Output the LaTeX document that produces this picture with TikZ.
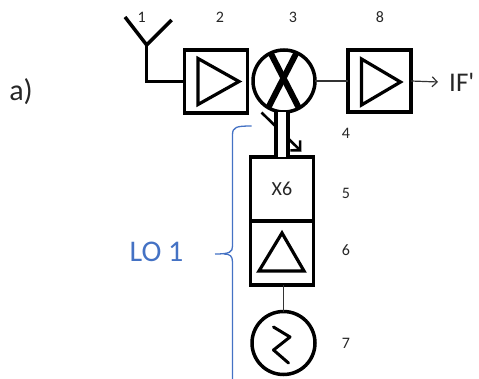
\documentclass[tikz,border=0pt]{standalone}
\usepackage{fontspec}
\setmainfont{Carlito}
\usetikzlibrary{arrows.meta}
\definecolor{lblue}{HTML}{4472C4}
\begin{document}
\begin{tikzpicture}[x=1pt,y=-1pt,
  blk/.style={draw, line width=3.5pt, minimum width=63pt, minimum height=63pt, inner sep=0pt, outer sep=0pt},
  rnd/.style={draw, circle, line width=3.5pt, inner sep=0pt, outer sep=0pt},
  tri/.style={line width=3.2pt, line join=miter},
  thin/.style={line width=1.2pt, draw=black!80},
  num/.style={font=\fontsize{16}{18}\selectfont, text=black!85, inner sep=0pt},
  brc/.style={draw=lblue, line width=1.3pt}]
\useasboundingbox (0,0) rectangle (479,379);

% blocks
\node[blk] (amp1) at (216,81.5) {};
\node[rnd, minimum size=62pt] (mix) at (284,81) {};
\node[blk, minimum height=62pt] (amp2) at (379.5,81) {};
\node[blk, minimum height=64pt, font=\fontsize{20}{22}\selectfont, text=black!85] (mult) at (282,189) {X6};
\node[blk, minimum height=64pt] (loamp) at (282,253) {};
\node[rnd, minimum size=63pt] (osc) at (283.5,343) {};

% antenna
\coordinate (ant) at (146.7,45);
\coordinate (antl) at (125,17);
\coordinate (antr) at (171.7,20);
\draw[line width=3.5pt, line join=miter] (antl) -- (ant) -- (antr);
\draw[line width=3.5pt, line join=miter] (ant) |- (amp1.west);

% triangles
\draw[tri] ([shift={(-18,-23)}]amp1.center) -- ([shift={(-18,23)}]amp1.center) -- ([shift={(23,0)}]amp1.center) -- cycle;
\draw[tri] ([shift={(-18,-22)}]amp2.center) -- ([shift={(-18,24)}]amp2.center) -- ([shift={(21,1)}]amp2.center) -- cycle;
\draw[tri] ([shift={(0,-20)}]loamp.center) -- ([shift={(-23,18)}]loamp.center) -- ([shift={(22,18)}]loamp.center) -- cycle;

% mixer X
\begin{scope}
  \clip (mix.center) circle[radius=31pt];
  \draw[line width=6pt] ([shift={(-17,-35)}]mix.center) -- ([shift={(19,35)}]mix.center);
  \draw[line width=6pt] ([shift={(16,-35)}]mix.center) -- ([shift={(-20,35)}]mix.center);
\end{scope}

% oscillator wave
\draw[line width=3pt, line join=round, line cap=round]
  ([shift={(-10,-16)}]osc.center) -- ([shift={(6.5,-6)}]osc.center) -- ([shift={(-10,7)}]osc.center) -- ([shift={(5,20)}]osc.center);

% connectors
\draw[thin] (mix.east) -- (amp2.west);
\node[font=\fontsize{27}{30}\selectfont, text=black!85, anchor=west, inner sep=0pt] (if) at (449,82) {IF\textquotesingle};
\coordinate (ifend) at (438,82);
\draw[thin, -{Straight Barb[length=5pt,width=10pt]}] (amp2.east) -- (ifend);
\draw[thin] (osc.north |- loamp.south) -- (osc.north);

% LO coupling arrow and waveguide
\coordinate (lostart) at (261.5,112.5);
\coordinate (loend) at (301.5,151.5);
\draw[line width=2.6pt, -{Straight Barb[length=7pt,width=14pt]}] (lostart) -- (loend);
\fill[white] ([xshift=-6pt]mult.north) rectangle ([xshift=6pt]mult.north |- mix.south);
\draw[line width=4.5pt] ([xshift=-6pt]mult.north) -- ([xshift=-6pt]mult.north |- mix.south);
\draw[line width=4.5pt] ([xshift=6pt]mult.north) -- ([xshift=6pt]mult.north |- mix.south);

% labels
\node[num] (n1) at (141.7,17) {1};
\node[num] (n2) at (220,17) {2};
\node[num] (n3) at (293,17) {3};
\node[num] (n8) at (380,17) {8};
\node[num] (n4) at (346,133) {4};
\node[num] (n5) at (346,193) {5};
\node[num] (n6) at (346,250) {6};
\node[num] (n7) at (346,343) {7};
\node[font=\fontsize{30}{32}\selectfont, text=black!85, inner sep=0pt] (lbla) at (21,92) {a)};

% LO brace
\coordinate (btop) at (251.7,126);
\coordinate (bmid) at (215,254);
\coordinate (bbot) at (232.5,392);
\draw[brc] (btop) .. controls (236,126) and (232.5,127) .. (232.5,135) -- (232.5,246) .. controls (232.5,252) and (230,254) .. (bmid);
\draw[brc] (bbot) -- (232.5,262) .. controls (232.5,256) and (230,254) .. (224,254);
\node[font=\fontsize{30}{32}\selectfont, text=lblue, inner sep=0pt] (lo) at (156.5,252) {LO 1};
\end{tikzpicture}
\end{document}
